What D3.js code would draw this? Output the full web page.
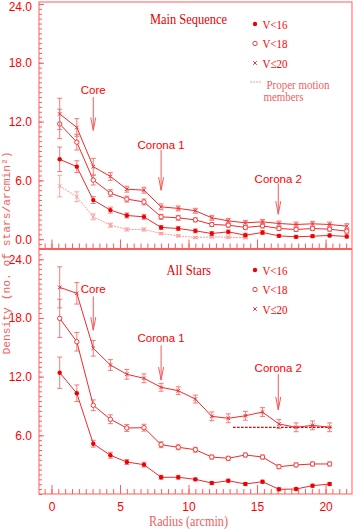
<!DOCTYPE html>
<html>
<head>
<meta charset="utf-8">
<script src="https://cdn.jsdelivr.net/npm/d3@7"></script>
<style>
  body { margin: 0; background: #fff; }
  svg { display: block; }
</style>
</head>
<body>
<div id="chart"></div>
<script>
// radius of each ring (arcmin)
var radius = [0.6, 1.85, 3.05, 4.3, 5.5, 6.75, 8.0, 9.25, 10.5, 11.7, 12.9, 14.15, 15.4, 16.6, 17.85, 19.05, 20.3, 21.55];

// Main Sequence panel
var msV16 = [8.15, 7.4, 3.99, 2.97, 2.42, 2.28, 1.2, 1.09, 0.85, 0.58, 0.75, 0.41, 0.68, 0.34, 0.24, 0.31, 0.38, 0.28];
var msV16err = [1.25, 0.6, 0.35, 0.3, 0.25, 0.25, 0.2, 0.2, 0.2, 0.2, 0.2, 0.2, 0.2, 0.15, 0.15, 0.15, 0.15, 0.15];
var msV18 = [11.76, 9.9, 6.03, 4.7, 4.09, 3.8, 2.28, 2.18, 1.97, 1.5, 1.43, 1.2, 1.36, 1.09, 0.99, 1.09, 1.02, 0.82];
var msV18err = [1.5, 0.8, 0.5, 0.35, 0.3, 0.3, 0.25, 0.25, 0.2, 0.2, 0.2, 0.2, 0.2, 0.2, 0.2, 0.2, 0.2, 0.2];
var msV20 = [12.78, 11.4, 7.4, 6.4, 5.1, 5.0, 3.3, 3.14, 2.9, 2.18, 1.87, 1.67, 1.77, 1.6, 1.5, 1.57, 1.5, 1.33];
var msV20err = [1.6, 0.9, 0.85, 0.4, 0.3, 0.3, 0.3, 0.25, 0.25, 0.25, 0.25, 0.25, 0.25, 0.25, 0.25, 0.25, 0.25, 0.25];
var msPM = [5.42, 4.33, 2.28, 1.43, 0.99, 0.99, 0.58, 0.34, 0.17, 0.24, 0.2, 0.15];
var msPMerr = [1.1, 0.5, 0.3, 0.2, 0.15, 0.15, 0.1, 0.1, 0.1, 0.1, 0.1, 0.1];

// All Stars panel
var asV16 = [12.4, 10.3, 5.14, 3.96, 3.27, 3.0, 1.71, 1.71, 1.5, 1.12, 1.36, 1.02, 1.26, 0.48, 0.51, 0.85, 1.02];
var asV16err = [1.6, 0.85, 0.35, 0.3, 0.25, 0.25, 0.2, 0.2, 0.15, 0.15, 0.15, 0.15, 0.15, 0.15, 0.15, 0.15, 0.15];
var asV18 = [17.96, 15.57, 9.07, 7.64, 6.75, 6.78, 5.04, 4.78, 4.53, 3.78, 3.65, 3.99, 3.78, 2.79, 2.97, 3.07, 3.07];
var asV18err = [1.95, 0.95, 0.55, 0.45, 0.35, 0.35, 0.3, 0.25, 0.25, 0.2, 0.2, 0.2, 0.2, 0.2, 0.2, 0.2, 0.2];
var asV20 = [21.13, 20.52, 14.9, 13.19, 12.24, 11.83, 10.91, 10.56, 9.71, 7.94, 7.74, 8.0, 8.38, 7.16, 6.82, 7.02, 6.82];
var asV20err = [2.1, 1.1, 0.8, 0.55, 0.5, 0.45, 0.4, 0.4, 0.4, 0.45, 0.45, 0.45, 0.45, 0.45, 0.45, 0.45, 0.45];
var asLevel = { from: 13.25, to: 20.55, value: 6.82 }; // dotted background level

var yTickLabels = [0, 6, 12, 18, 24];
var xTickLabels = [0, 5, 10, 15, 20];
var legendLabels = ["V<16", "V<18", "V\u226420"];

// feature arrows: label, radius, text level, arrow start, arrow tip (density units)
var msMarks = [["Core", 3.05, 15.2, 14.5, 11.1], ["Corona 1", 8.0, 9.6, 9.1, 5.0], ["Corona 2", 16.55, 6.1, 5.7, 2.55]];
var asMarks = [["Core", 3.05, 21.0, 20.2, 16.75], ["Corona 1", 8.0, 16.0, 15.2, 11.65], ["Corona 2", 16.55, 12.9, 12.25, 8.6]];

var w = 353, h = 529;
var red = "#ff0000", lineCol = "#ee2b2b", errCol = "#f46b6b", frameCol = "#ff5c5c", pmCol = "#ff9a9a", pink = "#ef6060";
var narrow = "'Liberation Sans Narrow', 'Liberation Sans', Arial, sans-serif";
var serif = "'Liberation Serif', 'Times New Roman', serif";

var svg = d3.select("#chart").append("svg").attr("width", w).attr("height", h)
    .style("background", "#fff");

var x = d3.scaleLinear().domain([-0.91, 21.93]).range([39, 352]);
var yTop = d3.scaleLinear().domain([-0.95, 24.2]).range([248.5, 2]);
var yBot = d3.scaleLinear().domain([0, 25]).range([494, 249.5]);

function marker(g, type, cx, cy) {
    if (type == "filled") {
	g.append("circle").attr("cx", cx).attr("cy", cy).attr("r", 2.2).attr("fill", "#ee0000");
    } else if (type == "open") {
	g.append("circle").attr("cx", cx).attr("cy", cy).attr("r", 2.2)
	    .attr("fill", "#fff").attr("stroke", "#f03a3a").attr("stroke-width", 1);
    } else {
	var c = type == "pm" ? pmCol : "#f03535", s = 1.8;
	g.append("path").attr("d", "M" + (cx - s) + "," + (cy - s) + "L" + (cx + s) + "," + (cy + s) +
			      "M" + (cx - s) + "," + (cy + s) + "L" + (cx + s) + "," + (cy - s))
	    .attr("stroke", c).attr("stroke-width", 1).attr("fill", "none");
    }
}

function series(g, y, vals, errs, type, col) {
    var pts = vals.map(function(v, i) { return [radius[i], v, errs[i]]; });
    var line = d3.line().x(function(d) { return x(d[0]); }).y(function(d) { return y(d[1]); });

    // error bars
    var eb = g.append("g").attr("stroke", type == "pm" ? pmCol : errCol).attr("stroke-width", 0.9);
    pts.forEach(function(d) {
	var cx = x(d[0]), y1 = y(d[1] - d[2]), y2 = y(d[1] + d[2]);
	eb.append("path").attr("d", "M" + cx + "," + y1 + "V" + y2 +
			       "M" + (cx - 2.5) + "," + y1 + "h5M" + (cx - 2.5) + "," + y2 + "h5");
    });

    g.append("path").datum(pts).attr("d", line)
	.attr("fill", "none").attr("stroke", col).attr("stroke-width", 1)
	.attr("stroke-dasharray", type == "pm" ? "2,1" : null);

    pts.forEach(function(d) { marker(g, type, x(d[0]), y(d[1])); });
}

function frame(y, bottom, showXLabels) {
    var r = y.range();
    svg.append("rect").attr("x", 39).attr("y", r[1]).attr("width", 313).attr("height", r[0] - r[1])
	.attr("fill", "none").attr("stroke", frameCol).attr("stroke-width", 1);

    // left axis, minor every 0.5
    var dom = y.domain();
    var minor = d3.range(Math.ceil(dom[0] * 2) / 2, dom[1], 0.5);
    svg.append("g").attr("transform", "translate(39,0)")
	.call(d3.axisLeft(y).tickValues(minor).tickSize(-3).tickFormat(""))
	.call(function(g) { g.select(".domain").remove(); g.selectAll("line").attr("stroke", frameCol); });

    svg.append("g").attr("transform", "translate(39,0)")
	.call(d3.axisLeft(y).tickValues(yTickLabels.filter(function(v) { return v >= dom[0] && v <= dom[1] && (v > 0 || !showXLabels); }))
	      .tickSize(-5).tickPadding(7).tickFormat(d3.format(".1f")))
	.call(function(g) {
	    g.select(".domain").remove();
	    g.selectAll("line").attr("stroke", frameCol);
	    g.selectAll("text").attr("fill", red).attr("font-family", narrow).attr("font-size", "12px");
	    // keep the top label inside the page
	    g.selectAll(".tick").filter(function(v) { return y(v) < 7; }).select("text")
		.attr("y", function(v) { return 7 - y(v); });
	});

    // bottom axis
    var xminor = d3.range(-0.5, 21.9, 0.5);
    svg.append("g").attr("transform", "translate(0," + bottom + ")")
	.call(d3.axisBottom(x).tickValues(xminor).tickSize(-5).tickFormat(""))
	.call(function(g) { g.select(".domain").remove(); g.selectAll("line").attr("stroke", frameCol); });

    svg.append("g").attr("transform", "translate(0," + bottom + ")")
	.call(d3.axisBottom(x).tickValues(xTickLabels).tickSize(-9).tickPadding(8)
	      .tickFormat(showXLabels ? d3.format("d") : ""))
	.call(function(g) {
	    g.select(".domain").remove();
	    g.selectAll("line").attr("stroke", frameCol);
	    g.selectAll("text").attr("fill", red).attr("font-family", narrow).attr("font-size", "12px");
	});
}

function arrows(y, marks) {
    marks.forEach(function(m) {
	var cx = x(m[1]), tip = y(m[4]);
	svg.append("text").attr("x", cx).attr("y", y(m[2]) + 4)
	    .attr("text-anchor", "middle").attr("fill", red)
	    .attr("font-family", narrow).attr("font-size", "11.5px").text(m[0]);
	svg.append("path")
	    .attr("d", "M" + cx + "," + y(m[3]) + "V" + tip +
		  "M" + (cx - 2.5) + "," + (tip - 13) + "L" + cx + "," + tip + "L" + (cx + 2.5) + "," + (tip - 13))
	    .attr("fill", "none").attr("stroke", "#f45a5a").attr("stroke-width", 1);
    });
}

function legend(top, withPM) {
    var types = ["filled", "open", "cross"];
    legendLabels.forEach(function(l, i) {
	var cy = top + i * 19.5;
	marker(svg, types[i], 255, cy);
	svg.append("text").attr("x", 262.5).attr("y", cy + 4.5)
	    .attr("fill", red).attr("font-family", serif).attr("font-size", "13px")
	    .attr("textLength", 25).attr("lengthAdjust", "spacingAndGlyphs").text(l);
    });
    if (withPM) {
	svg.append("line").attr("x1", 250).attr("x2", 262).attr("y1", top + 58).attr("y2", top + 58)
	    .attr("stroke", pmCol).attr("stroke-dasharray", "2,1");
	svg.append("text").attr("x", 266.5).attr("y", top + 65).attr("fill", pink)
	    .attr("font-family", serif).attr("font-size", "11.5px")
	    .attr("textLength", 63).attr("lengthAdjust", "spacingAndGlyphs").text("Proper motion");
	svg.append("text").attr("x", 263.5).attr("y", top + 77).attr("fill", pink)
	    .attr("font-family", serif).attr("font-size", "11.5px")
	    .attr("textLength", 40).attr("lengthAdjust", "spacingAndGlyphs").text("members");
    }
}

// top panel: Main Sequence
frame(yTop, 248.5, false);
var gTop = svg.append("g");
series(gTop, yTop, msPM, msPMerr, "pm", pmCol);
series(gTop, yTop, msV16, msV16err, "filled", lineCol);
series(gTop, yTop, msV18, msV18err, "open", lineCol);
series(gTop, yTop, msV20, msV20err, "cross", lineCol);
arrows(yTop, msMarks);
legend(24, true);
svg.append("text").attr("x", 150).attr("y", 24).attr("fill", "#e80000")
    .attr("font-family", serif).attr("font-size", "14px")
    .attr("textLength", 77).attr("lengthAdjust", "spacingAndGlyphs").text("Main Sequence");

// bottom panel: All Stars
frame(yBot, 494, true);
var gBot = svg.append("g");
gBot.append("line").attr("x1", x(asLevel.from)).attr("x2", x(asLevel.to))
    .attr("y1", yBot(asLevel.value)).attr("y2", yBot(asLevel.value))
    .attr("stroke", "#cc0000").attr("stroke-width", 1.2).attr("stroke-dasharray", "2.5,1.5");
series(gBot, yBot, asV16, asV16err, "filled", lineCol);
series(gBot, yBot, asV18, asV18err, "open", lineCol);
series(gBot, yBot, asV20, asV20err, "cross", lineCol);
arrows(yBot, asMarks);
legend(270, false);
svg.append("text").attr("x", 166.5).attr("y", 275).attr("fill", "#e80000")
    .attr("font-family", serif).attr("font-size", "14px")
    .attr("textLength", 44.5).attr("lengthAdjust", "spacingAndGlyphs").text("All Stars");

// axis titles
svg.append("text").attr("x", 188.5).attr("y", 526).attr("text-anchor", "middle")
    .attr("fill", pink).attr("font-family", serif).attr("font-size", "14px")
    .attr("textLength", 79).attr("lengthAdjust", "spacingAndGlyphs").text("Radius (arcmin)");

svg.append("text").attr("transform", "translate(10,253) rotate(-90)").attr("text-anchor", "middle")
    .attr("fill", pink).attr("font-family", "'Liberation Mono', 'DejaVu Sans Mono', monospace").attr("font-size", "11px")
    .attr("textLength", 203).attr("lengthAdjust", "spacingAndGlyphs").text("Density (no. of stars/arcmin\u00b2)");
</script>
</body>
</html>
